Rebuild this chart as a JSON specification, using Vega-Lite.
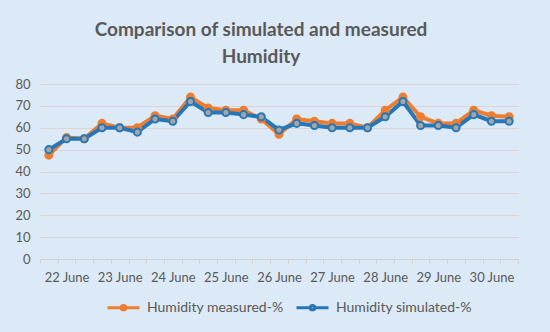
{
  "$schema": "https://vega.github.io/schema/vega-lite/v6.json",
  "autosize": {"type": "none"},
  "width": 478,
  "height": 175,
  "padding": {"left": 40, "top": 84, "right": 32, "bottom": 73},
  "background": "#DCE9F6",
  "title": {
    "text": ["Comparison of simulated and measured", "Humidity"],
    "font": "Lato",
    "fontSize": 19,
    "fontWeight": "bold",
    "color": "#595959",
    "anchor": "middle",
    "offset": 11,
    "dx": -18,
    "lineHeight": 27
  },
  "data": {
    "values": [
      {"t": 0, "day": "22 June", "measured": 47.5, "simulated": 50},
      {"t": 1, "day": "22 June", "measured": 55.5, "simulated": 55},
      {"t": 2, "day": "22 June", "measured": 55, "simulated": 55},
      {"t": 3, "day": "23 June", "measured": 62, "simulated": 60},
      {"t": 4, "day": "23 June", "measured": 60, "simulated": 60},
      {"t": 5, "day": "23 June", "measured": 60, "simulated": 58},
      {"t": 6, "day": "24 June", "measured": 65.5, "simulated": 64},
      {"t": 7, "day": "24 June", "measured": 64, "simulated": 63},
      {"t": 8, "day": "24 June", "measured": 74, "simulated": 72},
      {"t": 9, "day": "25 June", "measured": 69, "simulated": 67},
      {"t": 10, "day": "25 June", "measured": 68, "simulated": 67},
      {"t": 11, "day": "25 June", "measured": 68, "simulated": 66},
      {"t": 12, "day": "26 June", "measured": 64, "simulated": 65},
      {"t": 13, "day": "26 June", "measured": 57, "simulated": 59},
      {"t": 14, "day": "26 June", "measured": 64, "simulated": 62},
      {"t": 15, "day": "27 June", "measured": 63, "simulated": 61},
      {"t": 16, "day": "27 June", "measured": 62, "simulated": 60},
      {"t": 17, "day": "27 June", "measured": 62, "simulated": 60},
      {"t": 18, "day": "28 June", "measured": 60, "simulated": 60},
      {"t": 19, "day": "28 June", "measured": 68, "simulated": 65},
      {"t": 20, "day": "28 June", "measured": 74, "simulated": 72},
      {"t": 21, "day": "29 June", "measured": 65, "simulated": 61},
      {"t": 22, "day": "29 June", "measured": 62, "simulated": 61},
      {"t": 23, "day": "29 June", "measured": 62, "simulated": 60},
      {"t": 24, "day": "30 June", "measured": 68, "simulated": 66},
      {"t": 25, "day": "30 June", "measured": 65.5, "simulated": 63},
      {"t": 26, "day": "30 June", "measured": 65, "simulated": 63}
    ]
  },
  "transform": [
    {"fold": ["measured", "simulated"], "as": ["key", "value"]},
    {"calculate": "datum.key == 'measured' ? 'Humidity measured-%' : 'Humidity simulated-%'", "as": "series"}
  ],
  "encoding": {
    "x": {
      "field": "t",
      "type": "ordinal",
      "scale": {"type": "band", "paddingInner": 0, "paddingOuter": 0},
      "axis": {
        "title": null,
        "labelAngle": 0,
        "labelOverlap": false,
        "labelExpr": "datum.value % 3 == 1 ? ['22 June','23 June','24 June','25 June','26 June','27 June','28 June','29 June','30 June'][floor(datum.value / 3)] : ''",
        "tickBand": "extent",
        "ticks": true,
        "tickSize": 4,
        "tickColor": "#D0D0D0",
        "domainColor": "#D0D0D0",
        "labelFont": "Lato",
        "labelFontSize": 13,
        "labelColor": "#595959",
        "labelPadding": 8,
        "grid": false
      }
    },
    "y": {
      "field": "value",
      "type": "quantitative",
      "scale": {"domain": [0, 80]},
      "axis": {
        "title": null,
        "values": [0, 10, 20, 30, 40, 50, 60, 70, 80],
        "domain": false,
        "ticks": false,
        "gridColor": "#DCD3D6",
        "labelFont": "Lato",
        "labelFontSize": 13,
        "labelColor": "#595959",
        "labelPadding": 10
      }
    },
    "order": {"field": "t", "type": "quantitative"}
  },
  "layer": [
    {
      "mark": {"type": "line", "strokeWidth": 4},
      "encoding": {
        "color": {
          "field": "series",
          "type": "nominal",
          "scale": {"domain": ["Humidity measured-%", "Humidity simulated-%"], "range": ["#ED7D31", "#2577B8"]},
          "legend": {
            "title": null,
            "orient": "none",
            "legendX": 66,
            "legendY": 206,
            "direction": "horizontal",
            "symbolType": "M-1,0L-0.14,0M0.14,0L1,0M-0.14,0A0.14,0.14 0 1,1 0.14,0A0.14,0.14 0 1,1 -0.14,0Z",
            "symbolStrokeWidth": 3,
            "symbolSize": 1024,
            "labelFont": "Lato",
            "labelFontSize": 14,
            "labelColor": "#595959",
            "labelOffset": 6,
            "columnPadding": 6,
            "encode": {
              "symbols": {
                "update": {
                  "fill": {"signal": "datum.value == 'Humidity measured-%' ? '#ED7D31' : '#A5A5A5'"},
                  "fillOpacity": {"value": 1}
                }
              }
            }
          }
        }
      }
    },
    {
      "mark": {"type": "point", "filled": false, "size": 50, "strokeWidth": 2, "opacity": 1},
      "encoding": {
        "stroke": {"field": "series", "type": "nominal", "scale": {"domain": ["Humidity measured-%", "Humidity simulated-%"], "range": ["#ED7D31", "#2577B8"]}, "legend": null},
        "fill": {"field": "series", "type": "nominal", "scale": {"domain": ["Humidity measured-%", "Humidity simulated-%"], "range": ["#ED7D31", "#A5A5A5"]}, "legend": null}
      }
    }
  ],
  "config": {"view": {"stroke": null}}
}
